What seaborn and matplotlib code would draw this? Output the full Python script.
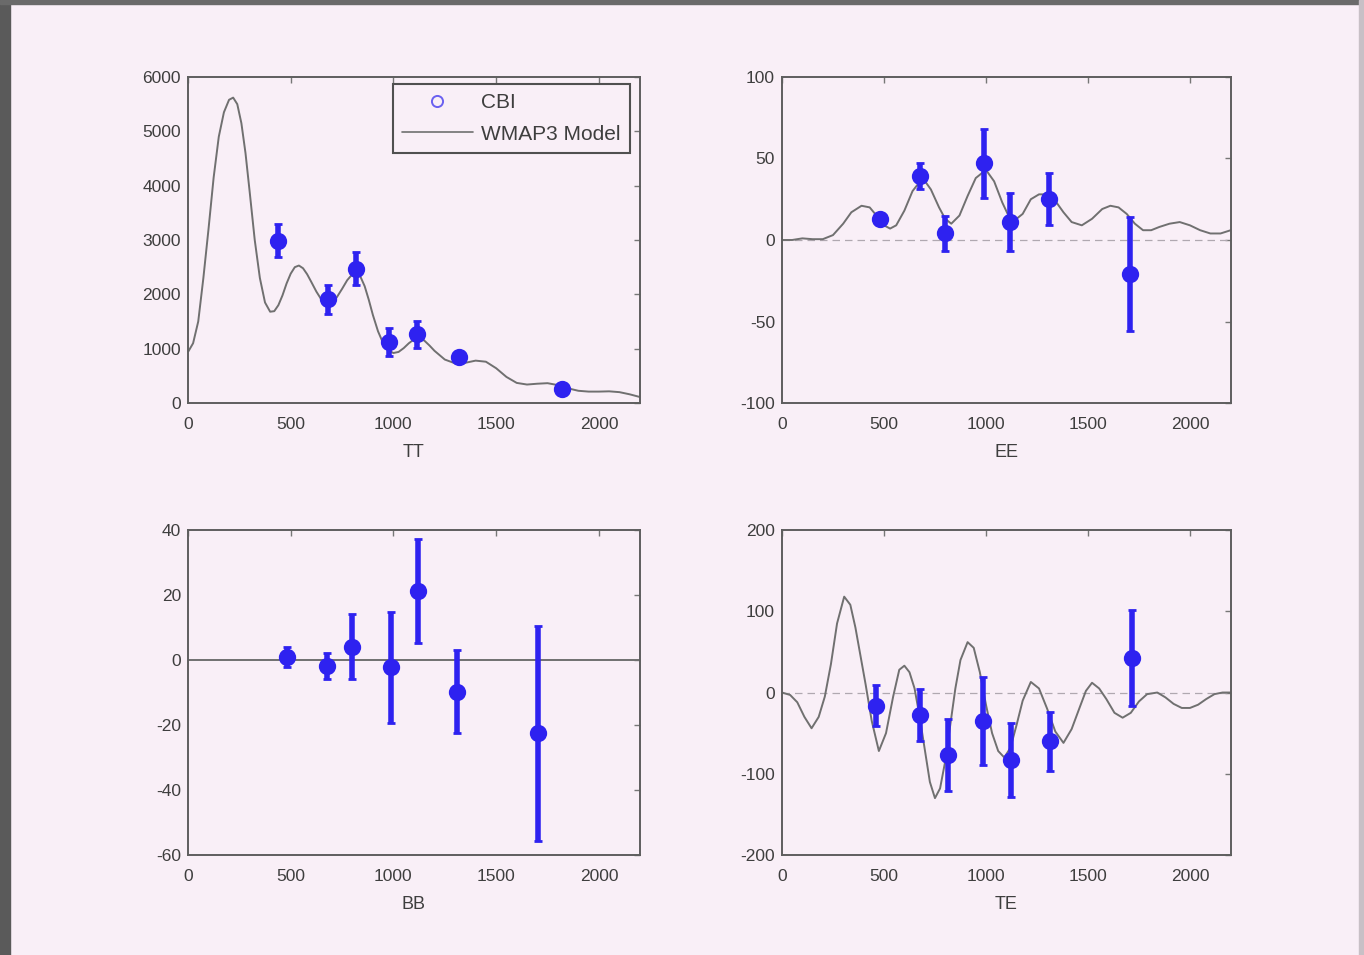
import numpy as np
import pandas as pd
import matplotlib
matplotlib.use("Agg")
import matplotlib.pyplot as plt
import seaborn as sns
from matplotlib.lines import Line2D
from matplotlib.patches import Rectangle

# ---------------- data ----------------
x_ticks = [0, 500, 1000, 1500, 2000]

# WMAP3 model curves
tt_model_ell = [2, 25, 50, 75, 100, 125, 150, 175, 200, 220, 240, 260, 280, 300, 325, 350, 375,
                400, 420, 440, 460, 480, 500, 520, 540, 560, 580, 600, 625, 650, 675, 700, 725,
                750, 775, 800, 820, 840, 860, 880, 900, 925, 950, 975, 1000, 1025, 1050, 1075,
                1100, 1125, 1150, 1175, 1200, 1250, 1300, 1350, 1400, 1450, 1500, 1550, 1600,
                1650, 1700, 1750, 1800, 1850, 1900, 1950, 2000, 2050, 2100, 2150, 2200]
tt_model_val = [950, 1100, 1500, 2300, 3200, 4150, 4900, 5350, 5580, 5620, 5500, 5150, 4600, 3900,
                3000, 2300, 1850, 1680, 1690, 1800, 1980, 2200, 2380, 2500, 2530, 2480, 2370, 2230,
                2050, 1900, 1820, 1840, 1950, 2100, 2260, 2370, 2390, 2320, 2150, 1900, 1620, 1320,
                1100, 970, 920, 940, 1010, 1100, 1170, 1190, 1150, 1060, 960, 800, 730, 740, 780,
                760, 640, 480, 370, 340, 355, 365, 330, 270, 225, 210, 210, 215, 200, 160, 110]

ee_model_ell = [0, 50, 100, 150, 200, 250, 300, 340, 390, 430, 470, 500, 530, 560, 600, 640, 690,
                730, 770, 800, 830, 870, 910, 950, 1000, 1040, 1080, 1110, 1140, 1180, 1220, 1260,
                1300, 1340, 1380, 1420, 1470, 1520, 1570, 1610, 1650, 1690, 1730, 1770, 1810, 1850,
                1900, 1950, 2000, 2050, 2100, 2150, 2200]
ee_model_val = [0, 0, 1, 0.5, 0.5, 3, 10, 17, 21, 20, 14, 9, 7, 9, 18, 30, 38, 31, 20, 13, 10, 15,
                27, 38, 43, 36, 23, 15, 12, 16, 25, 28, 28, 24, 17, 11, 9, 13, 19, 21, 20, 16, 10,
                6, 6, 8, 10, 11, 9, 6, 4, 4, 6]

te_model_ell = [0, 40, 75, 110, 145, 180, 210, 240, 270, 305, 335, 360, 385, 410, 440, 475, 510,
                545, 575, 600, 625, 650, 675, 700, 725, 750, 775, 800, 825, 850, 875, 910, 940, 970,
                1000, 1030, 1060, 1090, 1120, 1150, 1180, 1220, 1260, 1300, 1340, 1380, 1420, 1460,
                1490, 1520, 1555, 1590, 1630, 1670, 1710, 1750, 1790, 1840, 1880, 1920, 1960, 2000,
                2040, 2080, 2120, 2160, 2200]
te_model_val = [0, -3, -12, -30, -44, -30, -5, 35, 85, 118, 108, 80, 45, 10, -35, -72, -50, -5, 28,
                33, 25, 5, -30, -70, -110, -130, -118, -85, -40, 5, 40, 62, 55, 25, -15, -50, -72,
                -80, -68, -40, -10, 13, 5, -20, -48, -62, -45, -18, 2, 12, 5, -8, -25, -31, -25,
                -11, -2, 0, -6, -14, -19, -19, -15, -8, -2, 0, 0]

bb_model_ell = [0, 2200]
bb_model_val = [0, 0]

# CBI band powers
tt_ell = [440, 680, 820, 980, 1115, 1320, 1820]
tt_val = [2990, 1910, 2470, 1120, 1265, 846, 260]
tt_err = [300, 270, 300, 260, 250, 100, 50]

pol_ell = [480, 677, 800, 990, 1118, 1310, 1705]
ee_val = [12.8, 39, 4, 47, 11, 25, -20.6]
ee_err = [3, 8, 11, 21, 18, 16, 35]

bb_val = [1, -1.7, 4.1, -2.3, 21.2, -9.7, -22.6]
bb_err = [3, 4, 10, 17, 16, 12.7, 33]

te_ell = [462, 678, 815, 985, 1121, 1316, 1718]
te_val = [-16, -28, -77, -35, -83, -60, 43]
te_err = [25, 32, 44, 54, 46, 36, 59]

# ---------------- style ----------------
bg = "#f9eff7"
blue = "#2e22f0"
model_col = "#707070"
text_col = "#3e3e3e"

sns.set_theme(style="white")
plt.rcParams["font.family"] = ["Liberation Sans", "DejaVu Sans"]
plt.rcParams["axes.unicode_minus"] = False

fig = plt.figure(figsize=(13.64, 9.55), dpi=100, facecolor=bg)

# photo-like edges
fig.patches.append(Rectangle((0, 0), 0.0075, 1, transform=fig.transFigure, color="#5a5a5a", zorder=0))
fig.patches.append(Rectangle((0, 0.996), 1, 0.004, transform=fig.transFigure, color="#6a6a6a", zorder=0))
fig.patches.append(Rectangle((0.9965, 0), 0.0035, 1, transform=fig.transFigure, color="#c8c0c6", zorder=0))

panels = [
    dict(name="TT", pos=[0.1378, 0.578, 0.3314, 0.3414], ylim=(0, 6000),
         yticks=[0, 1000, 2000, 3000, 4000, 5000, 6000],
         mell=tt_model_ell, mval=tt_model_val, ell=tt_ell, val=tt_val, err=tt_err, zero=False),
    dict(name="EE", pos=[0.5733, 0.578, 0.3290, 0.3414], ylim=(-100, 100),
         yticks=[-100, -50, 0, 50, 100],
         mell=ee_model_ell, mval=ee_model_val, ell=pol_ell, val=ee_val, err=ee_err, zero=True),
    dict(name="BB", pos=[0.1378, 0.1047, 0.3314, 0.3403], ylim=(-60, 40),
         yticks=[-60, -40, -20, 0, 20, 40],
         mell=bb_model_ell, mval=bb_model_val, ell=pol_ell, val=bb_val, err=bb_err, zero=False),
    dict(name="TE", pos=[0.5733, 0.1047, 0.3290, 0.3403], ylim=(-200, 200),
         yticks=[-200, -100, 0, 100, 200],
         mell=te_model_ell, mval=te_model_val, ell=te_ell, val=te_val, err=te_err, zero=True),
]

for p in panels:
    ax = fig.add_axes(p["pos"])
    ax.set_facecolor(bg)
    if p["zero"]:
        ax.axhline(0, color="#b0a8b0", lw=0.9, ls=(0, (6, 4)), zorder=1)
    mdf = pd.DataFrame({"ell": p["mell"], "val": p["mval"]})
    sns.lineplot(data=mdf, x="ell", y="val", ax=ax, color=model_col, lw=1.4,
                 estimator=None, sort=False, zorder=2)
    ax.errorbar(p["ell"], p["val"], yerr=p["err"], fmt="none", ecolor=blue,
                elinewidth=4, capsize=3, capthick=2, zorder=3)
    ddf = pd.DataFrame({"ell": p["ell"], "val": p["val"]})
    sns.scatterplot(data=ddf, x="ell", y="val", ax=ax, s=120, color=blue,
                    edgecolor=blue, linewidth=1.5, zorder=4)
    ax.set_xlim(0, 2200)
    ax.set_ylim(*p["ylim"])
    ax.set_xticks(x_ticks)
    ax.set_yticks(p["yticks"])
    ax.set_xlabel(p["name"], fontsize=13, color=text_col, labelpad=9)
    ax.set_ylabel("")
    ax.tick_params(direction="in", length=4, width=1, top=True, right=True,
                   colors="#777777", labelcolor=text_col, labelsize=12.5)
    ax.tick_params(axis="x", pad=10)
    ax.tick_params(axis="y", pad=5)
    for s in ax.spines.values():
        s.set_color("#5e5e5e")
        s.set_linewidth(1.4)
    if p["name"] == "TT":
        handles = [Line2D([], [], marker="o", ls="none", mfc="none", mec="#6a60f0",
                          ms=8, mew=1.4),
                   Line2D([], [], color=model_col, lw=1.2)]
        leg = ax.legend(handles, ["CBI", "WMAP3 Model"], loc="upper right",
                        bbox_to_anchor=(0.978, 0.979), frameon=True, fancybox=False,
                        edgecolor="#505050", facecolor=bg, framealpha=1,
                        handlelength=3.4, fontsize=15, borderpad=0.45,
                        labelspacing=0.6, handletextpad=0.4, borderaxespad=0)
        leg.get_frame().set_linewidth(1.5)
        for t in leg.get_texts():
            t.set_color(text_col)

fig.savefig("out.png", dpi=100, facecolor=bg)
